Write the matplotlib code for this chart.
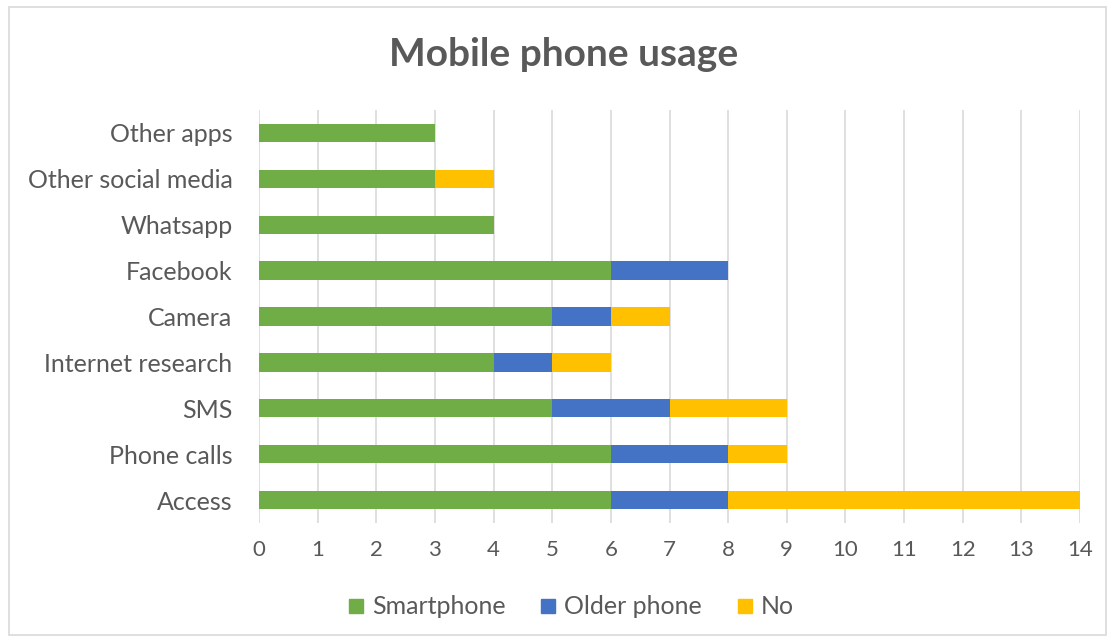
import matplotlib
matplotlib.use("Agg")
import matplotlib.pyplot as plt
from matplotlib.patches import Rectangle
from matplotlib.lines import Line2D

categories = ["Access", "Phone calls", "SMS", "Internet research", "Camera",
              "Facebook", "Whatsapp", "Other social media", "Other apps"]
smartphone = [6, 6, 5, 4, 5, 6, 4, 3, 3]
older_phone = [2, 2, 2, 1, 1, 2, 0, 0, 0]
no_phone = [6, 1, 2, 1, 1, 0, 0, 1, 0]
series_names = ["Smartphone", "Older phone", "No"]
colors = ["#70AD47", "#4472C4", "#FFC000"]
x_ticks = list(range(0, 15))

plt.rcParams["font.family"] = ["Lato", "DejaVu Sans"]
text_color = "#595959"

W, H = 1113, 643
fig = plt.figure(figsize=(W / 100, H / 100), dpi=100)
ax = fig.add_axes([259 / W, 1 - 523 / H, (1080 - 259) / W, (523 - 110) / H])

y = list(range(len(categories)))
left = [0] * len(categories)
for vals, name, col in zip([smartphone, older_phone, no_phone], series_names, colors):
    ax.barh(y, vals, left=left, height=0.4, color=col, label=name, zorder=3)
    left = [a + b for a, b in zip(left, vals)]

ax.set_xlim(0, 14)
ax.set_ylim(-0.5, len(categories) - 0.5)
ax.set_xticks(x_ticks)
ax.set_xticklabels([str(t) for t in x_ticks], fontsize=16, color=text_color)
ax.set_yticks(y)
ax.set_yticklabels(categories, fontsize=18, color=text_color)
ax.tick_params(axis="both", length=0)
ax.tick_params(axis="x", pad=12)
ax.tick_params(axis="y", pad=19)
ax.grid(axis="x", color="#D9D9D9", linewidth=1.2, zorder=0)
for s in ax.spines.values():
    s.set_visible(False)

fig.text(564 / W, 1 - 55 / H, "Mobile phone usage", ha="center", va="center",
         fontsize=28, fontweight="bold", color=text_color)

handles = [Line2D([], [], marker="s", linestyle="none", markersize=10,
                  markerfacecolor=c, markeredgecolor=c) for c in colors]
fig.legend(handles, series_names, loc="center", bbox_to_anchor=(570 / W, 1 - 607 / H),
           ncol=3, frameon=False, fontsize=18, labelcolor=text_color,
           handletextpad=0.25, columnspacing=1.3, handlelength=0.8)

fig.patches.append(Rectangle((9 / W, 1 - 635 / H), (1106 - 9) / W, (635 - 7) / H,
                             transform=fig.transFigure, fill=False,
                             edgecolor="#D9D9D9", linewidth=1.2))

fig.savefig("out.png", dpi=100)
